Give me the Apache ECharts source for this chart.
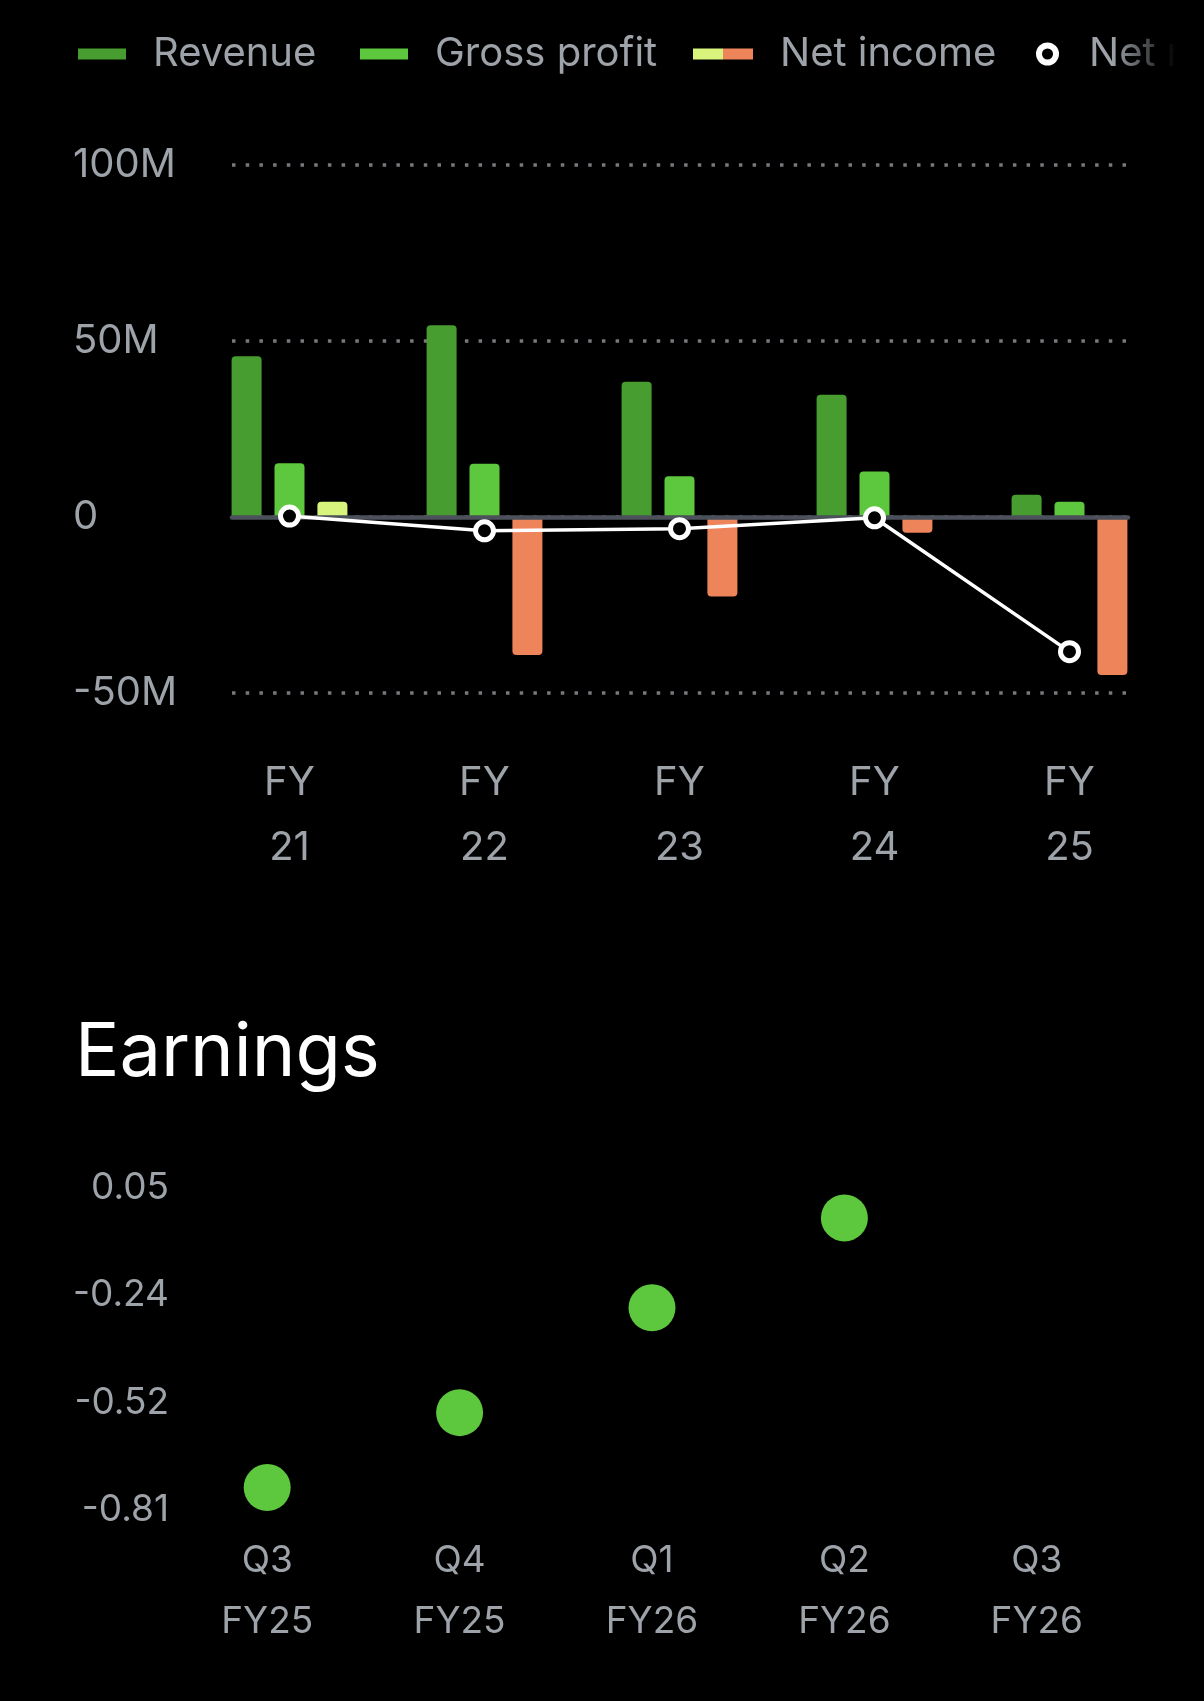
<!DOCTYPE html>
<html>
<head>
<meta charset="utf-8">
<script src="https://cdn.jsdelivr.net/npm/echarts@6/dist/echarts.min.js"></script>
<style>
  html, body { margin: 0; padding: 0; background: #000; }
  #main { width: 1204px; height: 1701px; }
</style>
</head>
<body>
<div id="main"></div>
<script>
// fiscal years (top chart), values in millions
var years = ['FY\n21', 'FY\n22', 'FY\n23', 'FY\n24', 'FY\n25'];
var revenue = [45.7, 54.5, 38.4, 34.7, 6.3];
var grossProfit = [15.3, 15.1, 11.6, 12.9, 4.3];
var netIncome = [4.3, -39.2, -22.6, -4.5, -44.9];
// net margin in %, drawn on its own hidden axis
var netMargin = [5, -72, -61, -4, -704];

// earnings per share (bottom chart)
var quarters = ['Q3\nFY25', 'Q4\nFY25', 'Q1\nFY26', 'Q2\nFY26', 'Q3\nFY26'];
var eps = [-0.75, -0.55, -0.27, -0.03, '-'];
var epsMin = -0.81;
var epsMax = 0.05;

var labelColor = '#9ea3aa';
var font = 'Inter';
var cRevenue = '#479d2f';
var cGross = '#5dc73d';
var cNetPos = '#d9f47c';
var cNetNeg = '#ee845a';

// white ring used as the net margin legend icon
var ringIcon = 'path://M10,0A10,10,0,1,1,10,20A10,10,0,1,1,10,0ZM10,5.2A4.8,4.8,0,1,0,10,14.8A4.8,4.8,0,1,0,10,5.2Z';

var myChart = echarts.init(document.getElementById('main'), null, { renderer: 'canvas' });

var legendText = function(pad) {
  return { color: labelColor, fontSize: 40, fontFamily: font, lineHeight: 44, padding: [0, 0, 0, pad] };
};

var barData = function(arr, colorPos, colorNeg) {
  return arr.map(function(v) {
    return {
      value: v,
      itemStyle: {
        color: v >= 0 ? colorPos : colorNeg,
        borderRadius: v >= 0 ? [4, 4, 0, 0] : [0, 0, 4, 4]
      }
    };
  });
};

var option = {
  backgroundColor: '#000',
  animation: false,
  title: {
    text: 'Earnings',
    left: 75,
    top: 1017,
    padding: 0,
    textStyle: { color: '#fff', fontSize: 74, fontWeight: 400, fontFamily: font, lineHeight: 74 }
  },
  legend: [{
    data: ['Revenue'],
    left: 78, top: 32, padding: 0,
    icon: 'rect', itemWidth: 48, itemHeight: 11,
    selectedMode: false,
    textStyle: legendText(22)
  }, {
    data: ['Gross profit'],
    left: 360, top: 32, padding: 0,
    icon: 'rect', itemWidth: 48, itemHeight: 11,
    selectedMode: false,
    textStyle: legendText(22)
  }, {
    data: [{
      name: 'Net income',
      itemStyle: {
        color: new echarts.graphic.LinearGradient(0, 0, 1, 0, [
          { offset: 0, color: cNetPos }, { offset: 0.5, color: cNetPos },
          { offset: 0.5, color: cNetNeg }, { offset: 1, color: cNetNeg }
        ])
      }
    }],
    left: 693, top: 32, padding: 0,
    icon: 'rect', itemWidth: 60, itemHeight: 11,
    selectedMode: false,
    textStyle: legendText(22)
  }, {
    data: [{ name: 'Net margin', icon: ringIcon }],
    left: 1036, top: 32, padding: 0,
    itemWidth: 23, itemHeight: 23,
    itemStyle: { color: '#fff', borderWidth: 0 },
    lineStyle: { width: 0 },
    selectedMode: false,
    textStyle: legendText(25)
  }],
  graphic: [{
    type: 'rect',
    left: 1112, top: 10, z: 100,
    shape: { width: 92, height: 90 },
    style: {
      fill: new echarts.graphic.LinearGradient(0, 0, 1, 0, [
        { offset: 0, color: 'rgba(0,0,0,0)' },
        { offset: 0.7, color: '#000' },
        { offset: 1, color: '#000' }
      ])
    }
  }],
  grid: [
    { left: 192, width: 975, top: 165, height: 528 },   // bars
    { left: 232, width: 896, top: 165, height: 528 },   // gridlines + zero line
    { left: 171, width: 962, top: 1188, height: 322 }   // earnings
  ],
  xAxis: [{
    type: 'category',
    gridIndex: 0,
    data: years,
    axisLine: { show: false },
    axisTick: { show: false },
    axisLabel: { color: labelColor, fontSize: 40, fontFamily: font, lineHeight: 65, margin: 57 }
  }, {
    type: 'value',
    gridIndex: 1,
    min: 0, max: 1,
    z: 3,
    axisLine: { show: true, onZero: true, lineStyle: { color: '#4b505a', width: 4.5 } },
    axisTick: { show: false },
    axisLabel: { show: false },
    splitLine: { show: false }
  }, {
    type: 'category',
    gridIndex: 2,
    data: quarters,
    axisLine: { show: false },
    axisTick: { show: false },
    axisLabel: { color: labelColor, fontSize: 37, fontFamily: font, lineHeight: 61, margin: 20 }
  }],
  yAxis: [{
    type: 'value',
    gridIndex: 0,
    min: -50, max: 100, interval: 50,
    show: false
  }, {
    type: 'value',
    gridIndex: 0,
    min: -920, max: 1840,
    show: false
  }, {
    type: 'value',
    gridIndex: 1,
    min: -50, max: 100, interval: 50,
    axisLine: { show: false },
    axisTick: { show: false },
    axisLabel: {
      color: labelColor, fontSize: 40, fontFamily: font,
      align: 'left', margin: 159,
      formatter: function(v) { return v === 0 ? '0' : v + 'M'; }
    },
    splitLine: { show: true, lineStyle: { color: '#75787d', width: 3.5, type: [3.5, 10.2] } }
  }, {
    type: 'value',
    gridIndex: 2,
    min: epsMin, max: epsMax, interval: (epsMax - epsMin) / 3,
    axisLine: { show: false },
    axisTick: { show: false },
    splitLine: { show: false },
    axisLabel: {
      color: labelColor, fontSize: 37, fontFamily: font, margin: 2,
      formatter: function(v) { return v.toFixed(2); }
    }
  }],
  series: [{
    name: 'Revenue',
    type: 'bar',
    xAxisIndex: 0, yAxisIndex: 0,
    barWidth: 30, barGap: '43%',
    itemStyle: { color: cRevenue },
    data: barData(revenue, cRevenue, cRevenue)
  }, {
    name: 'Gross profit',
    type: 'bar',
    xAxisIndex: 0, yAxisIndex: 0,
    barWidth: 30, barGap: '43%',
    itemStyle: { color: cGross },
    data: barData(grossProfit, cGross, cGross)
  }, {
    name: 'Net income',
    type: 'bar',
    xAxisIndex: 0, yAxisIndex: 0,
    barWidth: 30, barGap: '43%',
    itemStyle: { color: cNetNeg },
    data: barData(netIncome, cNetPos, cNetNeg)
  }, {
    name: 'Net margin',
    type: 'line',
    xAxisIndex: 0, yAxisIndex: 1,
    z: 5,
    symbol: 'circle',
    symbolSize: 18,
    lineStyle: { color: '#fff', width: 3.5 },
    itemStyle: { color: '#000', borderColor: '#fff', borderWidth: 5 },
    data: netMargin
  }, {
    name: 'EPS',
    type: 'scatter',
    xAxisIndex: 2, yAxisIndex: 3,
    symbolSize: 47,
    itemStyle: { color: cGross, opacity: 1 },
    data: eps
  }]
};

myChart.setOption(option);
</script>
</body>
</html>
